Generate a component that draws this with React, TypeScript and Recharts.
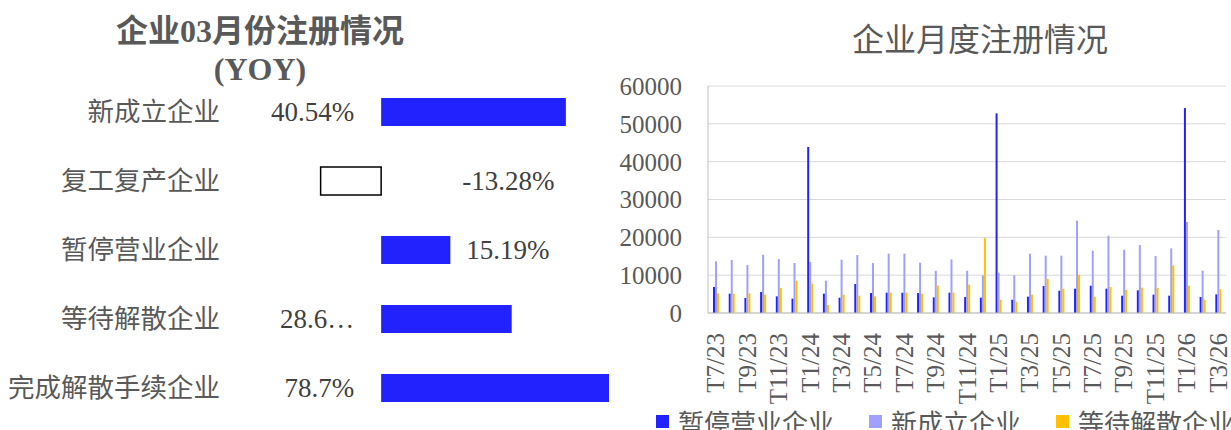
import React from 'react';
import { Bar, BarChart, CartesianGrid, Cell, LabelList, Legend, XAxis, YAxis } from 'recharts';

// left panel: March YoY change by registration type (%)
const yoyCategories = ['新成立企业', '复工复产企业', '暂停营业企业', '等待解散企业', '完成解散手续企业'];
const yoyValues = [40.54, -13.28, 15.19, 28.65, 78.7];
const yoyLabels = ['40.54%', '-13.28%', '15.19%', '28.6…', '78.7%'];

// right panel: monthly counts
const months = [
  'T7/23', 'T8/23', 'T9/23', 'T10/23', 'T11/23', 'T12/23',
  'T1/24', 'T2/24', 'T3/24', 'T4/24', 'T5/24', 'T6/24', 'T7/24', 'T8/24', 'T9/24', 'T10/24', 'T11/24', 'T12/24',
  'T1/25', 'T2/25', 'T3/25', 'T4/25', 'T5/25', 'T6/25', 'T7/25', 'T8/25', 'T9/25', 'T10/25', 'T11/25', 'T12/25',
  'T1/26', 'T2/26', 'T3/26',
];
const suspended = [
  6870, 5110, 3960, 5550, 4400, 3790,
  43880, 5110, 4050, 7670, 5290, 5370, 5370, 5290, 4140, 5370, 4230, 4050,
  52770, 3520, 4320, 7140, 5900, 6430, 7220, 6430, 4580, 5990, 4850, 4580,
  54170, 4230, 4930,
];
const newlyFounded = [
  13660, 14000, 12690, 15420, 14270, 13220,
  13480, 8550, 14100, 15330, 13220, 15680, 15680, 13300, 11150, 14150, 11150, 9950,
  10650, 9960, 15680, 15150, 15150, 24400, 16480, 20440, 16740, 17970, 15070, 17090,
  24050, 11190, 21940,
];
const awaitingDissolution = [
  5200, 5110, 5200, 4850, 6600, 8550,
  7750, 2110, 4850, 4580, 4400, 5370, 5370, 5110, 7260, 5370, 7480, 19800,
  3520, 3000, 4850, 8990, 6430, 10040, 4320, 6870, 6080, 6700, 6600, 12600,
  7220, 3520, 6260,
];
const yTicks = [0, 10000, 20000, 30000, 40000, 50000, 60000];
const seriesOrder = ['暂停营业企业', '新成立企业', '等待解散企业'];

const SERIF = '"Liberation Serif", "Times New Roman", "Noto Sans CJK SC", serif';
const CJK = '"Noto Sans CJK SC", "Noto Sans", sans-serif';
const GREY = '#595959';
const BLUE = '#2222FF';
const LILAC = '#A0A0FF';
const GOLD = '#FFC000';

// where each yoy label sits relative to its bar (copied from the source layout)
const labelSide = ['left', 'zero-right', 'end-right', 'left', 'left'];

function YoyLabel(props: any) {
  const { x, y, width, height, index } = props;
  const v = yoyValues[index];
  const lo = Math.min(x, x + width);
  const hi = Math.max(x, x + width);
  const zero = v < 0 ? hi : lo;
  let tx = zero - 27;
  let anchor = 'end';
  if (labelSide[index] === 'zero-right') {
    tx = zero + 81;
    anchor = 'start';
  } else if (labelSide[index] === 'end-right') {
    tx = hi + 16;
    anchor = 'start';
  }
  return (
    <text
      x={tx}
      y={y + height / 2}
      textAnchor={anchor}
      dominantBaseline="central"
      fontFamily={SERIF}
      fontSize={27}
      fill="#404040"
    >
      {yoyLabels[index]}
    </text>
  );
}

function MonthTick({ x, y, payload }: any) {
  const ty = y + 12;
  return (
    <text
      x={x}
      y={ty}
      transform={`rotate(-90 ${x} ${ty})`}
      textAnchor="end"
      dominantBaseline="central"
      fontFamily={SERIF}
      fontSize={25}
      fill={GREY}
    >
      {payload.value}
    </text>
  );
}

function MonthLegend({ payload }: any) {
  const items = [...(payload || [])].sort(
    (a: any, b: any) => seriesOrder.indexOf(a.value) - seriesOrder.indexOf(b.value),
  );
  return (
    <div style={{ display: 'flex', alignItems: 'center', whiteSpace: 'nowrap', height: 24 }}>
      {items.map((p: any) => (
        <span
          key={p.value}
          style={{ display: 'inline-flex', alignItems: 'center', marginRight: 35, fontFamily: CJK, fontSize: 26, color: GREY }}
        >
          <span style={{ width: 13, height: 13, background: p.color, marginRight: 9, display: 'inline-block' }} />
          {p.value}
        </span>
      ))}
    </div>
  );
}

export default function App() {
  const yoyData = yoyCategories.map((name, i) => ({ name, yoy: yoyValues[i] }));
  const monthly = months.map((month, i) => ({
    month,
    suspended: suspended[i],
    newlyFounded: newlyFounded[i],
    awaitingDissolution: awaitingDissolution[i],
  }));

  return (
    <div style={{ position: 'absolute', left: 0, top: 0, width: 1231, height: 430, overflow: 'hidden', background: '#fff' }}>
      <div
        style={{
          position: 'absolute', left: 100, top: 12, width: 320, textAlign: 'center',
          fontFamily: SERIF, fontWeight: 'bold', fontSize: 32, lineHeight: '38px', color: GREY,
        }}
      >
        企业03月份注册情况
        <br />
        (YOY)
      </div>
      <div style={{ position: 'absolute', left: 0, top: 0 }}>
        <BarChart layout="vertical" width={620} height={430} data={yoyData} margin={{ top: 77, right: 11, bottom: 8, left: 0 }}>
          <XAxis type="number" domain={[-20, 50]} allowDataOverflow hide />
          <YAxis
            type="category"
            dataKey="name"
            width={290}
            axisLine={false}
            tickLine={false}
            tickMargin={64}
            interval={0}
            tick={{ fontSize: 26.5, fill: GREY, fontFamily: CJK }}
          />
          <Bar dataKey="yoy" barSize={28} isAnimationActive={false}>
            {yoyData.map((d) => (
              <Cell
                key={d.name}
                fill={d.yoy < 0 ? '#FFFFFF' : BLUE}
                stroke={d.yoy < 0 ? '#000000' : 'none'}
                strokeWidth={d.yoy < 0 ? 1.5 : 0}
              />
            ))}
            <LabelList dataKey="yoy" content={<YoyLabel />} />
          </Bar>
        </BarChart>
      </div>

      <div
        style={{
          position: 'absolute', left: 820, top: 19, width: 320, textAlign: 'center',
          fontFamily: CJK, fontSize: 32, lineHeight: '36px', color: GREY,
        }}
      >
        企业月度注册情况
      </div>
      <div style={{ position: 'absolute', left: 600, top: 0 }}>
        <BarChart
          width={631}
          height={430}
          data={monthly}
          margin={{ top: 86, right: 5, bottom: 0, left: 8 }}
          barCategoryGap="32%"
          barGap={0}
        >
          <CartesianGrid vertical={false} stroke="#D9D9D9" />
          <XAxis dataKey="month" interval={1} tickLine={false} stroke="#BFBFBF" height={93} tick={<MonthTick />} />
          <YAxis
            domain={[0, 60000]}
            ticks={yTicks}
            width={100}
            tickLine={false}
            stroke="#BFBFBF"
            tickMargin={20}
            tick={{ fontSize: 25, fill: GREY, fontFamily: SERIF }}
          />
          <Legend
            verticalAlign="bottom"
            height={24}
            content={<MonthLegend />}
            wrapperStyle={{ left: 56, top: 409, width: 700 }}
          />
          <Bar dataKey="suspended" name="暂停营业企业" fill={BLUE} isAnimationActive={false} />
          <Bar dataKey="newlyFounded" name="新成立企业" fill={LILAC} isAnimationActive={false} />
          <Bar dataKey="awaitingDissolution" name="等待解散企业" fill={GOLD} isAnimationActive={false} />
        </BarChart>
      </div>
    </div>
  );
}
